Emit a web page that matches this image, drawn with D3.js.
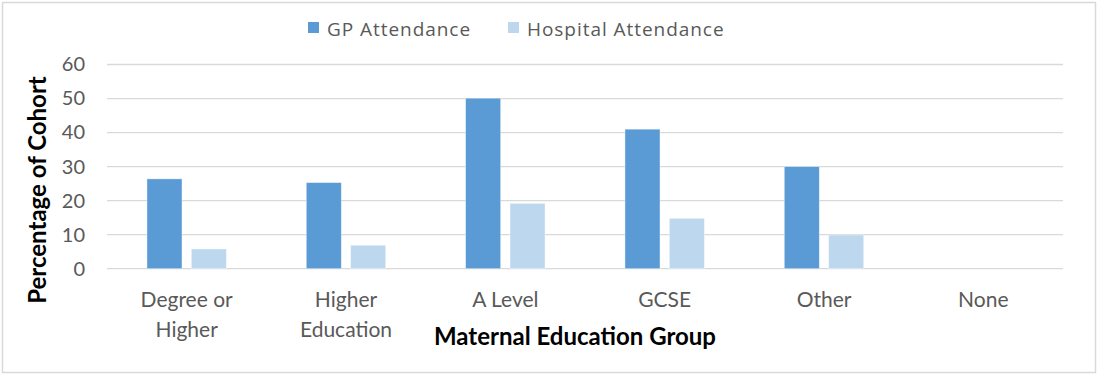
<!DOCTYPE html>
<html>
<head>
<meta charset="utf-8">
<script src="https://cdn.jsdelivr.net/npm/d3@7"></script>
<style>
  html, body { margin: 0; padding: 0; background: #fff; }
  svg { display: block; }
</style>
</head>
<body>
<svg id="chart" width="1098" height="374"></svg>
<script>
// Attendance by maternal education group (% of cohort)
const categories = [["Degree or", "Higher"], ["Higher", "Education"], ["A Level"], ["GCSE"], ["Other"], ["None"]];
const seriesNames = ["GP Attendance", "Hospital Attendance"];
const gpValues = [26.4, 25.3, 50.1, 41.0, 30.0, 0];
const hospitalValues = [5.8, 6.9, 19.2, 14.8, 9.9, 0];
const yTicks = [0, 10, 20, 30, 40, 50, 60];
const colors = ["#5B9BD5", "#BDD7EE"];

const FONT = "Lato, 'Open Sans', sans-serif";
const svg = d3.select("#chart");
const W = 1098, H = 374;
const plot = { left: 107, right: 1063, top: 64.5, bottom: 268.7 };

// chart border
svg.append("rect")
  .attr("x", 2.5).attr("y", 2.5).attr("width", W - 5).attr("height", H - 4)
  .attr("fill", "#fff").attr("stroke", "#d9d9d9").attr("stroke-width", 1.5);

const labels = categories.map(c => c.join(" "));
const x = d3.scaleBand().domain(labels).range([plot.left, plot.right]).paddingInner(0).paddingOuter(0);
const y = d3.scaleLinear().domain([0, 60]).range([plot.bottom, plot.top]);
const inner = d3.scaleBand().domain(seriesNames).range([0, x.bandwidth()]).paddingInner(0.21).paddingOuter(0.9);

// gridlines
svg.append("g").selectAll("line").data(yTicks).join("line")
  .attr("x1", plot.left).attr("x2", plot.right)
  .attr("y1", d => y(d)).attr("y2", d => y(d))
  .attr("stroke", "#d9d9d9").attr("stroke-width", 1.3);

// y axis labels
const yAxis = d3.axisLeft(y).tickValues(yTicks).tickSize(0).tickPadding(22);
const gy = svg.append("g").attr("transform", `translate(${plot.left},0)`).call(yAxis);
gy.select(".domain").remove();
gy.selectAll("text")
  .attr("fill", "#595959").style("font-family", FONT).style("font-size", "20px");

// bars
const data = labels.map((l, i) => ({ label: l, values: [gpValues[i], hospitalValues[i]] }));
const groups = svg.append("g").selectAll("g").data(data).join("g")
  .attr("transform", d => `translate(${x(d.label)},0)`);
groups.selectAll("rect")
  .data(d => d.values.map((v, j) => ({ key: seriesNames[j], value: v, j })))
  .join("rect")
  .filter(d => d.value > 0)
  .attr("x", d => inner(d.key))
  .attr("width", inner.bandwidth())
  .attr("y", d => y(d.value))
  .attr("height", d => y(0) - y(d.value))
  .attr("fill", d => colors[d.j])
  .attr("stroke", "#ffffff").attr("stroke-opacity", 0.5).attr("stroke-width", 0.8);

// x axis category labels
const xl = svg.append("g");
categories.forEach((lines, i) => {
  const cx = x(labels[i]) + x.bandwidth() / 2;
  const t = xl.append("text")
    .attr("x", cx).attr("y", 307)
    .attr("text-anchor", "middle")
    .attr("fill", "#595959")
    .style("font-family", FONT).style("font-size", "21px");
  lines.forEach((ln, k) => {
    t.append("tspan").attr("x", cx).attr("dy", k === 0 ? 0 : 30).text(ln);
  });
});

// axis titles
svg.append("text")
  .attr("x", 575).attr("y", 345)
  .attr("text-anchor", "middle")
  .attr("fill", "#000")
  .style("font-family", FONT).style("font-weight", "bold").style("font-size", "24px")
  .text("Maternal Education Group");

svg.append("text")
  .attr("transform", "translate(46,190) rotate(-90)")
  .attr("text-anchor", "middle")
  .attr("fill", "#000")
  .style("font-family", FONT).style("font-weight", "bold").style("font-size", "24px")
  .text("Percentage of Cohort");

// legend
const legendItems = [{ name: seriesNames[0], x: 308 }, { name: seriesNames[1], x: 508 }];
const lg = svg.append("g");
legendItems.forEach((it, i) => {
  lg.append("rect").attr("x", it.x).attr("y", 22).attr("width", 11).attr("height", 11).attr("fill", colors[i]);
  lg.append("text").attr("x", it.x + 19).attr("y", 36)
    .attr("fill", "#595959")
    .style("font-family", "'Open Sans', sans-serif").style("font-size", "19px")
    .style("letter-spacing", "0.95px")
    .text(it.name);
});
</script>
</body>
</html>
